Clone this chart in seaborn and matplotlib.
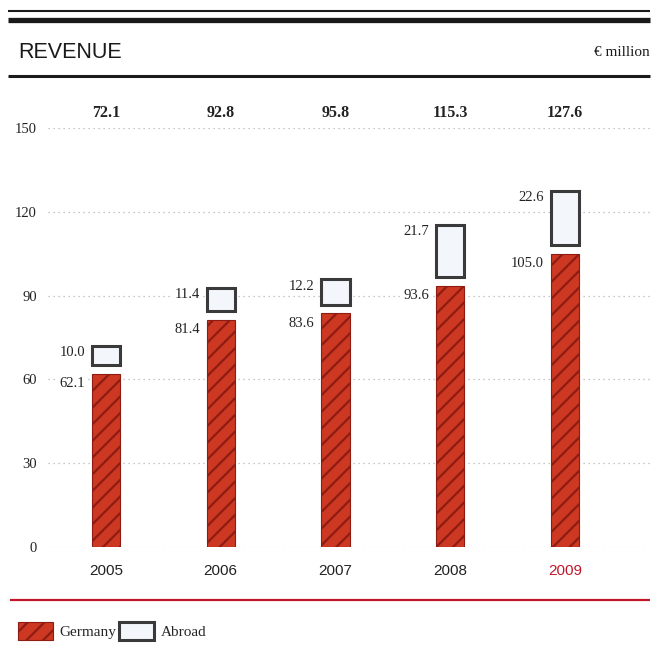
import matplotlib
matplotlib.use('Agg')
import numpy as np
import seaborn as sns
from matplotlib import pyplot as plt
from matplotlib.lines import Line2D
from matplotlib.patches import Patch

years = ['2005', '2006', '2007', '2008', '2009']
germany = [62.1, 81.4, 83.6, 93.6, 105.0]
abroad = [10.0, 11.4, 12.2, 21.7, 22.6]
totals = [72.1, 92.8, 95.8, 115.3, 127.6]
y_ticks = [0, 30, 60, 90, 120, 150]

RED = '#cc3822'
HATCH = '#8f1c12'
ACCENT = '#c0182a'
DARK = '#222222'
SERIF = ['Liberation Serif', 'DejaVu Serif']
SANS = ['Liberation Sans', 'DejaVu Sans']

sns.set_style('white')
plt.rcParams['font.family'] = SERIF
plt.rcParams['hatch.linewidth'] = 1.6

fig = plt.figure(figsize=(6.53, 6.47), dpi=100)
ax = fig.add_axes([48 / 653, 100 / 647, 602 / 653, 419 / 647])

bar_w = 0.245
gap = 3.0

sns.barplot(x=years, y=germany, color=RED, width=bar_w, saturation=1,
            edgecolor=HATCH, linewidth=0.8, hatch='//', ax=ax, zorder=3)

x = np.arange(len(years))
ax.bar(x, np.array(abroad) - gap, bottom=np.array(germany) + gap, width=bar_w,
       color='#f3f6fa', edgecolor='#3a3a3a', linewidth=2.2, zorder=3)

lbl_box = dict(facecolor='white', edgecolor='none', pad=1.0)
for i in range(len(years)):
    ax.text(x[i] - bar_w / 2 - 0.06, germany[i] - 3.5, f'{germany[i]:.1f}',
            ha='right', va='center', fontsize=10.5, color=DARK, zorder=4,
            bbox=lbl_box)
    ax.text(x[i] - bar_w / 2 - 0.06, totals[i] - 2.4, f'{abroad[i]:.1f}',
            ha='right', va='center', fontsize=10.5, color=DARK, zorder=4,
            bbox=lbl_box)
    ax.text(x[i], 155.3, f'{totals[i]:.1f}', ha='center', va='center',
            fontsize=11.5, fontweight='bold', color=DARK, clip_on=False)

ax.set_xlim(-0.505, 4.74)
ax.set_ylim(0, 150)
ax.set_yticks(y_ticks)
ax.set_yticklabels([str(v) for v in y_ticks], fontsize=10.5, color=DARK)
ax.tick_params(axis='y', length=0, pad=8)
ax.tick_params(axis='x', length=0, pad=12)
ax.set_xticks(x)
ax.set_xticklabels(years, fontsize=11, family=SANS)
for lbl in ax.get_xticklabels():
    lbl.set_color(ACCENT if lbl.get_text() == '2009' else DARK)
ax.set_xlabel('')
ax.set_ylabel('')
for sp in ax.spines.values():
    sp.set_visible(False)
for v in y_ticks:
    ax.axhline(v, color='#b5b5b5', lw=0.9, ls=(0, (1, 3)), zorder=1)

# header rules and titles
def hline(ypix, lw, color, x0=8, x1=650):
    y = 1 - ypix / 647
    fig.add_artist(Line2D([x0 / 653, x1 / 653], [y, y], lw=lw, color=color,
                          transform=fig.transFigure, solid_capstyle='butt'))

hline(11, 1.5, '#1a1a1a')
hline(19.5, 3.8, '#1a1a1a')
hline(75.5, 2.2, '#1a1a1a')
hline(600, 1.6, ACCENT, x0=10)

fig.text(18 / 653, 1 - 52 / 647, 'REVENUE', fontsize=15.5, family=SANS,
         color='#1a1a1a', va='center', ha='left')
fig.text(650 / 653, 1 - 53 / 647, '€ million', fontsize=11, color='#1a1a1a',
         va='center', ha='right')

handles = [Patch(facecolor=RED, edgecolor=HATCH, hatch='//', lw=0.8),
           Patch(facecolor='#f3f6fa', edgecolor='#3a3a3a', lw=2.2)]
fig.legend(handles, ['Germany', 'Abroad'], loc='center left',
           bbox_to_anchor=(18 / 653, 1 - 631 / 647), ncol=2, frameon=False,
           handlelength=2.3, handleheight=1.4, handletextpad=0.4,
           columnspacing=0.2, fontsize=11, borderpad=0, borderaxespad=0)

fig.savefig('out.png', dpi=100)
